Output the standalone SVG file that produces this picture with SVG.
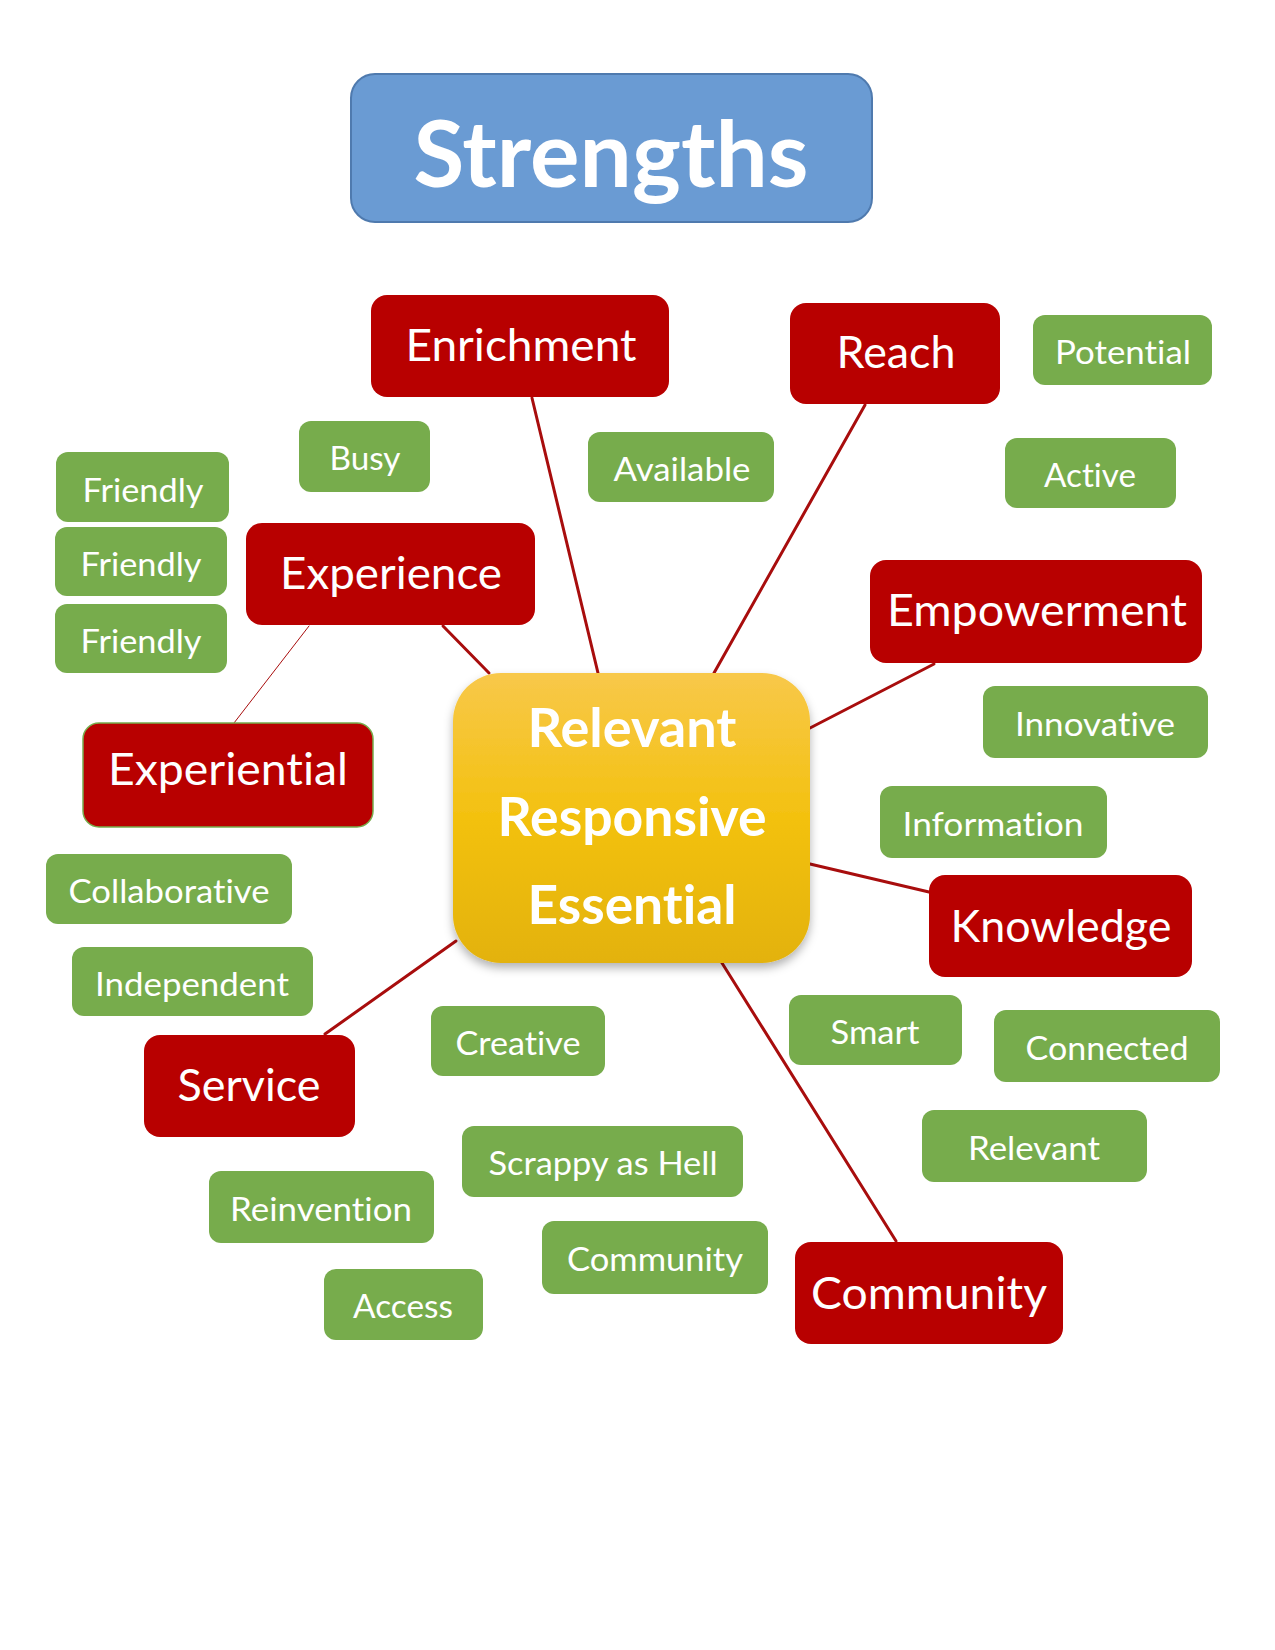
<svg xmlns="http://www.w3.org/2000/svg" width="1275" height="1650" viewBox="0 0 1275 1650">
<defs>
<linearGradient id="gold" x1="0" y1="0" x2="0" y2="1">
<stop offset="0" stop-color="#F8C84A"/>
<stop offset="0.5" stop-color="#F3C10F"/>
<stop offset="1" stop-color="#E3B20C"/>
</linearGradient>
<filter id="shadow" x="-20%" y="-20%" width="140%" height="150%">
<feDropShadow dx="0" dy="5" stdDeviation="5" flood-color="#000" flood-opacity="0.3"/>
</filter>
</defs>
<style>
.red rect{fill:#B80000;}
.green rect{fill:#77AC4C;}
text{font-family:Lato,"Liberation Sans",sans-serif;fill:#fff;text-anchor:middle;font-variant-ligatures:none;font-feature-settings:"liga" 0,"dlig" 0;}
.red text{font-size:44px;}
.green text{font-size:33px;}
.conn line{stroke:#A80D0D;stroke-width:3;stroke-linecap:round;}
</style>
<rect width="1275" height="1650" fill="#fff"/>

<g id="connectors" class="conn">
<line x1="532" y1="398" x2="598" y2="673"/>
<line x1="865" y1="405" x2="714" y2="673"/>
<line x1="443" y1="626" x2="489" y2="673"/>
<line x1="309" y1="626" x2="234" y2="723" style="stroke-width:1"/>
<line x1="934" y1="664" x2="810" y2="728"/>
<line x1="810" y1="864" x2="929" y2="892"/>
<line x1="456" y1="941" x2="325" y2="1034"/>
<line x1="722" y1="963" x2="896" y2="1241"/>
</g>

<g id="title">
<rect x="351" y="74" width="521" height="148" rx="24" fill="#6A9BD3" stroke="#4F7AAE" stroke-width="2"/>
<text x="611" y="187" font-size="92" font-weight="bold" textLength="395" lengthAdjust="spacingAndGlyphs">Strengths</text>
</g>

<g id="center">
<rect x="453" y="673" width="357" height="290" rx="48" fill="url(#gold)" filter="url(#shadow)"/>
<text x="632" y="747" font-size="53" font-weight="bold" textLength="209" lengthAdjust="spacingAndGlyphs">Relevant</text>
<text x="632" y="836" font-size="53" font-weight="bold" textLength="269" lengthAdjust="spacingAndGlyphs">Responsive</text>
<text x="632" y="924" font-size="53" font-weight="bold" textLength="209" lengthAdjust="spacingAndGlyphs">Essential</text>
</g>

<g id="enrichment" class="red"><rect x="371" y="295" width="298" height="102" rx="16"/><text x="521" y="361" textLength="231" lengthAdjust="spacingAndGlyphs">Enrichment</text></g>
<g id="reach" class="red"><rect x="790" y="303" width="210" height="101" rx="16"/><text x="896" y="368" textLength="119" lengthAdjust="spacingAndGlyphs">Reach</text></g>
<g id="experience" class="red"><rect x="246" y="523" width="289" height="102" rx="16"/><text x="391" y="589" textLength="222" lengthAdjust="spacingAndGlyphs">Experience</text></g>
<g id="empowerment" class="red"><rect x="870" y="560" width="332" height="103" rx="16"/><text x="1037" y="626" textLength="300" lengthAdjust="spacingAndGlyphs">Empowerment</text></g>
<g id="experiential" class="red"><rect x="83" y="723" width="290" height="104" rx="16" stroke="#77AC4C" stroke-width="1.5"/><text x="228" y="785" textLength="240" lengthAdjust="spacingAndGlyphs">Experiential</text></g>
<g id="knowledge" class="red"><rect x="929" y="875" width="263" height="102" rx="16"/><text x="1061" y="942" textLength="221" lengthAdjust="spacingAndGlyphs">Knowledge</text></g>
<g id="service" class="red"><rect x="144" y="1035" width="211" height="102" rx="16"/><text x="249" y="1101" textLength="143" lengthAdjust="spacingAndGlyphs">Service</text></g>
<g id="community-red" class="red"><rect x="795" y="1242" width="268" height="102" rx="16"/><text x="929" y="1309" textLength="236" lengthAdjust="spacingAndGlyphs">Community</text></g>

<g id="potential" class="green"><rect x="1033" y="315" width="179" height="70" rx="12"/><text x="1123" y="364" textLength="136" lengthAdjust="spacingAndGlyphs">Potential</text></g>
<g id="busy" class="green"><rect x="299" y="421" width="131" height="71" rx="12"/><text x="365" y="470" textLength="71" lengthAdjust="spacingAndGlyphs">Busy</text></g>
<g id="available" class="green"><rect x="588" y="432" width="186" height="70" rx="12"/><text x="682" y="481" textLength="137" lengthAdjust="spacingAndGlyphs">Available</text></g>
<g id="active" class="green"><rect x="1005" y="438" width="171" height="70" rx="12"/><text x="1090" y="487" textLength="92" lengthAdjust="spacingAndGlyphs">Active</text></g>
<g id="friendly1" class="green"><rect x="56" y="452" width="173" height="70" rx="12"/><text x="143" y="502" textLength="121" lengthAdjust="spacingAndGlyphs">Friendly</text></g>
<g id="friendly2" class="green"><rect x="55" y="527" width="172" height="69" rx="12"/><text x="141" y="576" textLength="121" lengthAdjust="spacingAndGlyphs">Friendly</text></g>
<g id="friendly3" class="green"><rect x="55" y="604" width="172" height="69" rx="12"/><text x="141" y="653" textLength="121" lengthAdjust="spacingAndGlyphs">Friendly</text></g>
<g id="innovative" class="green"><rect x="983" y="686" width="225" height="72" rx="12"/><text x="1095" y="736" textLength="160" lengthAdjust="spacingAndGlyphs">Innovative</text></g>
<g id="information" class="green"><rect x="880" y="786" width="227" height="72" rx="12"/><text x="993" y="836" textLength="181" lengthAdjust="spacingAndGlyphs">Information</text></g>
<g id="collaborative" class="green"><rect x="46" y="854" width="246" height="70" rx="12"/><text x="169" y="903" textLength="201" lengthAdjust="spacingAndGlyphs">Collaborative</text></g>
<g id="independent" class="green"><rect x="72" y="947" width="241" height="69" rx="12"/><text x="192" y="996" textLength="194" lengthAdjust="spacingAndGlyphs">Independent</text></g>
<g id="creative" class="green"><rect x="431" y="1006" width="174" height="70" rx="12"/><text x="518" y="1055" textLength="125" lengthAdjust="spacingAndGlyphs">Creative</text></g>
<g id="smart" class="green"><rect x="789" y="995" width="173" height="70" rx="12"/><text x="875" y="1044" textLength="89" lengthAdjust="spacingAndGlyphs">Smart</text></g>
<g id="connected" class="green"><rect x="994" y="1010" width="226" height="72" rx="12"/><text x="1107" y="1060" textLength="163" lengthAdjust="spacingAndGlyphs">Connected</text></g>
<g id="relevant" class="green"><rect x="922" y="1110" width="225" height="72" rx="12"/><text x="1034" y="1160" textLength="132" lengthAdjust="spacingAndGlyphs">Relevant</text></g>
<g id="scrappy" class="green"><rect x="462" y="1126" width="281" height="71" rx="12"/><text x="603" y="1175" textLength="229" lengthAdjust="spacingAndGlyphs">Scrappy as Hell</text></g>
<g id="reinvention" class="green"><rect x="209" y="1171" width="225" height="72" rx="12"/><text x="321" y="1221" textLength="182" lengthAdjust="spacingAndGlyphs">Reinvention</text></g>
<g id="community-green" class="green"><rect x="542" y="1221" width="226" height="73" rx="12"/><text x="655" y="1271" textLength="176" lengthAdjust="spacingAndGlyphs">Community</text></g>
<g id="access" class="green"><rect x="324" y="1269" width="159" height="71" rx="12"/><text x="403" y="1318" textLength="100" lengthAdjust="spacingAndGlyphs">Access</text></g>
</svg>
